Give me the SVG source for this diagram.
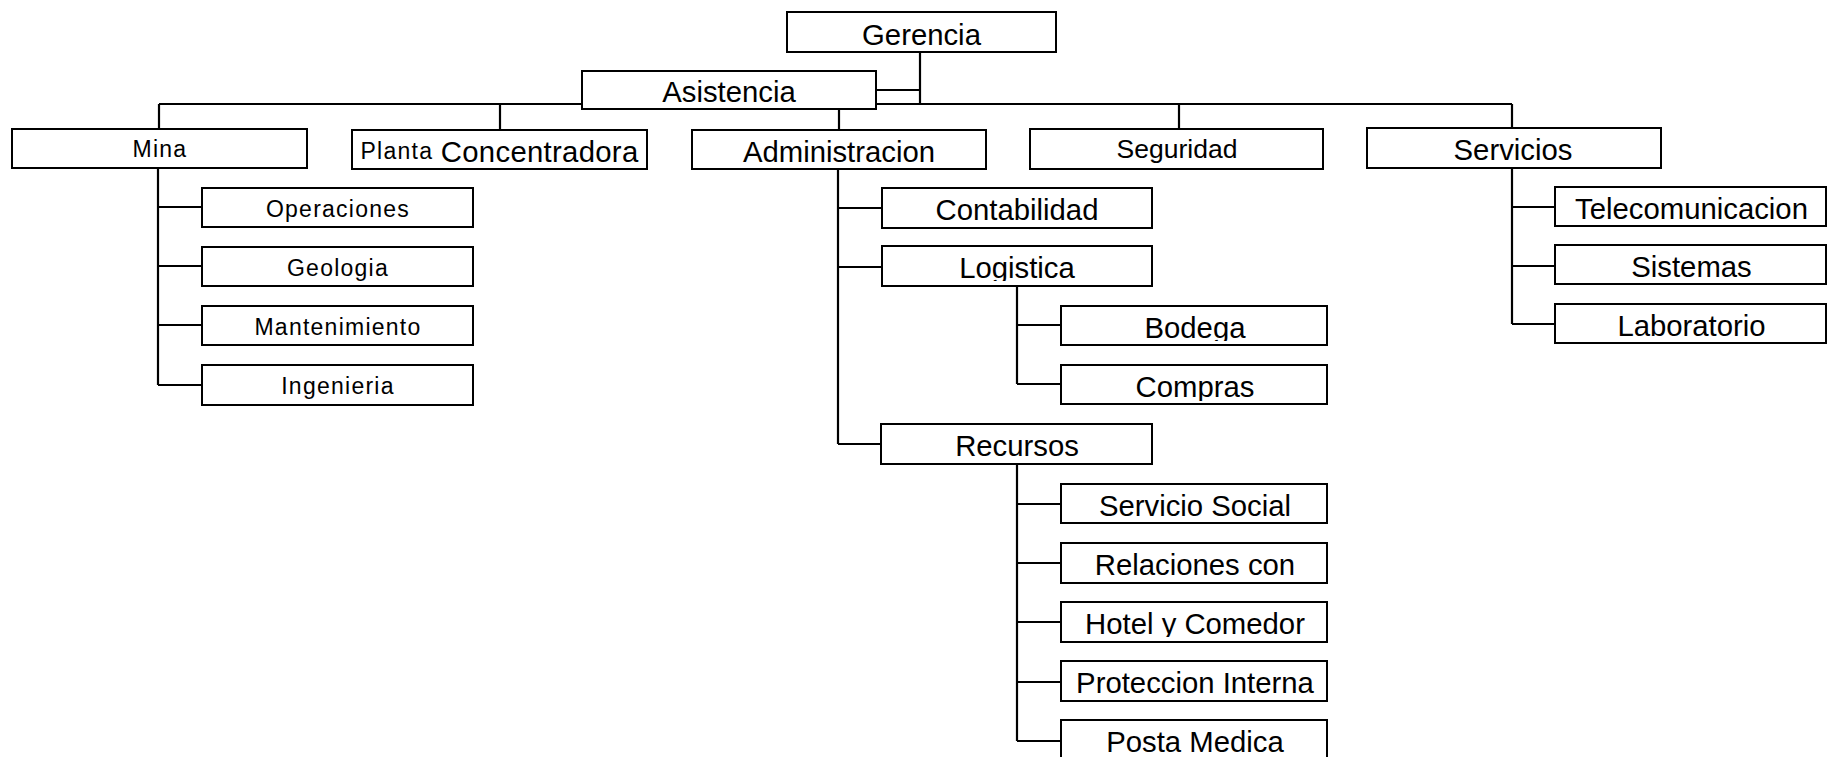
<svg xmlns="http://www.w3.org/2000/svg" width="1827" height="757" viewBox="0 0 1827 757">
  <style>
    .box { fill: #fff; stroke: #000; stroke-width: 2; }
    .link { fill: none; stroke: #000; stroke-width: 2.2; }
    .lbl { font-family: "Liberation Sans", Arial, sans-serif; text-anchor: middle; fill: #000; }
    .lg { font-size: 29.3px; }
    .md { font-size: 26.5px; }
    .sm { font-size: 23px; letter-spacing: 1.25px; }
  </style>
  <defs>
    <!-- descenders of these labels are cut off at the lower edge -->
    <clipPath id="clipLogistica" clipPathUnits="userSpaceOnUse"><rect x="882" y="246" width="270" height="35"/></clipPath>
    <clipPath id="clipBodega" clipPathUnits="userSpaceOnUse"><rect x="1061" y="306" width="266" height="35"/></clipPath>
    <clipPath id="clipCompras" clipPathUnits="userSpaceOnUse"><rect x="1061" y="365" width="266" height="36"/></clipPath>
    <clipPath id="clipHotel" clipPathUnits="userSpaceOnUse"><rect x="1061" y="602" width="266" height="35"/></clipPath>
  </defs>
  <rect width="1827" height="757" fill="#fff"/>

  <!-- connectors -->
  <g id="connectors" class="link">
    <!-- top level -->
    <path d="M920 52 V104"/>
    <path d="M876 90 H920"/>
    <path d="M159 104 H582"/>
    <path d="M876 104 H1512"/>
    <path d="M159 104 V129"/>
    <path d="M500 104 V130"/>
    <path d="M839 109 V130"/>
    <path d="M1179 104 V129"/>
    <path d="M1512 104 V128"/>
    <!-- Mina -->
    <path d="M158 168 V385 M158 207 H202 M158 266 H202 M158 325 H202 M158 385 H202"/>
    <!-- Administracion -->
    <path d="M838 169 V444 M838 208 H882 M838 267 H882 M838 444 H882"/>
    <!-- Logistica -->
    <path d="M1017 286 V384 M1017 325 H1061 M1017 384 H1061"/>
    <!-- Recursos -->
    <path d="M1017 464 V741 M1017 504 H1061 M1017 563 H1061 M1017 622 H1061 M1017 682 H1061 M1017 741 H1061"/>
    <!-- Servicios -->
    <path d="M1512 168 V324 M1512 207 H1555 M1512 266 H1555 M1512 324 H1555"/>
  </g>

  <!-- top -->
  <g id="gerencia">
    <rect class="box" x="787" y="12" width="269" height="40"/>
    <text class="lbl lg" x="921.5" y="44.5">Gerencia</text>
  </g>
  <g id="asistencia">
    <rect class="box" x="582" y="71" width="294" height="38"/>
    <text class="lbl lg" x="729" y="102">Asistencia</text>
  </g>

  <!-- second level -->
  <g id="mina">
    <rect class="box" x="12" y="129" width="295" height="39"/>
    <text class="lbl sm" x="160" y="157">Mina</text>
  </g>
  <g id="planta">
    <rect class="box" x="352" y="130" width="295" height="39"/>
    <text class="lbl" x="499.5" y="161.5"><tspan class="sm" dy="-3">Planta </tspan><tspan class="lg" dy="3" letter-spacing="0.3">Concentradora</tspan></text>
  </g>
  <g id="administracion">
    <rect class="box" x="692" y="130" width="294" height="39"/>
    <text class="lbl lg" x="839" y="161.5">Administracion</text>
  </g>
  <g id="seguridad">
    <rect class="box" x="1030" y="129" width="293" height="40"/>
    <text class="lbl md" x="1177" y="158">Seguridad</text>
  </g>
  <g id="servicios">
    <rect class="box" x="1367" y="128" width="294" height="40"/>
    <text class="lbl lg" x="1513" y="160">Servicios</text>
  </g>

  <!-- Mina units -->
  <g id="operaciones">
    <rect class="box" x="202" y="188" width="271" height="39"/>
    <text class="lbl sm" x="338" y="216.5">Operaciones</text>
  </g>
  <g id="geologia">
    <rect class="box" x="202" y="247" width="271" height="39"/>
    <text class="lbl sm" x="338" y="275.5">Geologia</text>
  </g>
  <g id="mantenimiento">
    <rect class="box" x="202" y="306" width="271" height="39"/>
    <text class="lbl sm" x="338" y="334.5">Mantenimiento</text>
  </g>
  <g id="ingenieria">
    <rect class="box" x="202" y="365" width="271" height="40"/>
    <text class="lbl sm" x="338" y="394">Ingenieria</text>
  </g>

  <!-- Administracion units -->
  <g id="contabilidad">
    <rect class="box" x="882" y="188" width="270" height="40"/>
    <text class="lbl lg" x="1017" y="220">Contabilidad</text>
  </g>
  <g id="logistica">
    <rect class="box" x="882" y="246" width="270" height="40"/>
    <text class="lbl lg" x="1017" y="278" clip-path="url(#clipLogistica)">Logistica</text>
  </g>
  <g id="bodega">
    <rect class="box" x="1061" y="306" width="266" height="39"/>
    <text class="lbl lg" x="1195" y="337.5" clip-path="url(#clipBodega)">Bodega</text>
  </g>
  <g id="compras">
    <rect class="box" x="1061" y="365" width="266" height="39"/>
    <text class="lbl lg" x="1195" y="396.5" clip-path="url(#clipCompras)">Compras</text>
  </g>
  <g id="recursos">
    <rect class="box" x="881" y="424" width="271" height="40"/>
    <text class="lbl lg" x="1017" y="456">Recursos</text>
  </g>
  <g id="servicio-social">
    <rect class="box" x="1061" y="484" width="266" height="39"/>
    <text class="lbl lg" x="1195" y="515.5">Servicio Social</text>
  </g>
  <g id="relaciones">
    <rect class="box" x="1061" y="543" width="266" height="40"/>
    <text class="lbl lg" x="1195" y="575">Relaciones con</text>
  </g>
  <g id="hotel-comedor">
    <rect class="box" x="1061" y="602" width="266" height="40"/>
    <text class="lbl lg" x="1195" y="634" clip-path="url(#clipHotel)">Hotel y Comedor</text>
  </g>
  <g id="proteccion-interna">
    <rect class="box" x="1061" y="661" width="266" height="40"/>
    <text class="lbl lg" x="1195" y="693">Proteccion Interna</text>
  </g>
  <g id="posta-medica">
    <rect class="box" x="1061" y="720" width="266" height="42"/>
    <text class="lbl lg" x="1195" y="752">Posta Medica</text>
  </g>

  <!-- Servicios units -->
  <g id="telecomunicacion">
    <rect class="box" x="1555" y="187" width="271" height="39"/>
    <text class="lbl lg" x="1691.5" y="218.5">Telecomunicacion</text>
  </g>
  <g id="sistemas">
    <rect class="box" x="1555" y="245" width="271" height="39"/>
    <text class="lbl lg" x="1691.5" y="276.5">Sistemas</text>
  </g>
  <g id="laboratorio">
    <rect class="box" x="1555" y="304" width="271" height="39"/>
    <text class="lbl lg" x="1691.5" y="335.5">Laboratorio</text>
  </g>
</svg>
